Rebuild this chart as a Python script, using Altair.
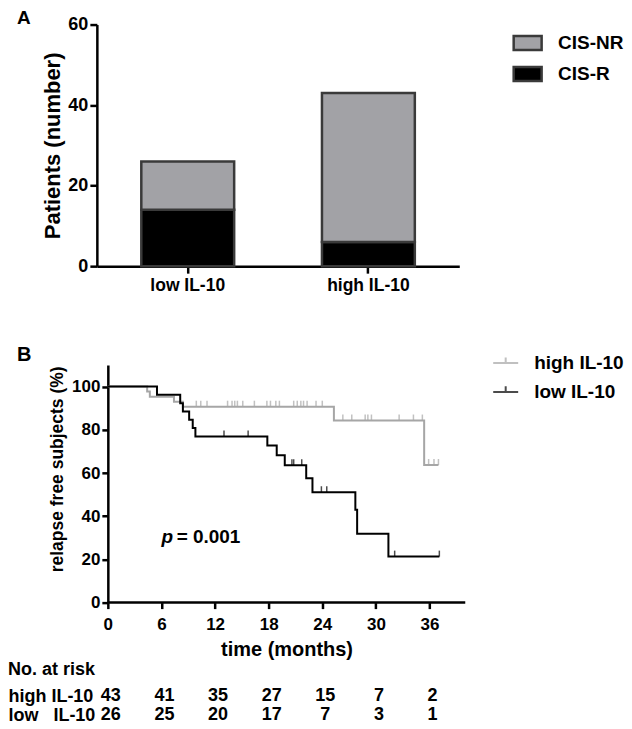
import altair as alt
import pandas as pd

FONT = "Liberation Sans"

# ---------------- Panel A data ----------------
groups = ["low IL-10", "high IL-10"]
status = ["CIS-NR", "CIS-R"]
status_colors = ["#a2a2a6", "#000000"]
cis_r = [14, 6]
cis_nr = [12, 37]

# ---------------- Panel B data ----------------
km_groups = ["high IL-10", "low IL-10"]
km_colors = ["#a6a6a6", "#000000"]

high_t = [0, 4.4, 4.7, 7.4, 8.4, 25.3, 35.4, 37.0]
high_s = [100, 97.7, 95.3, 93.0, 90.7, 84.3, 63.7, 63.7]
high_cens_t = [9.9, 10.4, 11.1, 13.4, 13.9, 14.2, 14.5, 15.1, 16.4, 17.8, 18.2, 18.8,
               19.2, 20.8, 21.2, 21.6, 21.9, 22.3, 23.3, 24.0,
               26.3, 27.3, 28.8, 29.1, 29.5, 32.6, 34.2, 35.2,
               35.9, 36.5, 37.0]
high_cens_s = [90.7] * 20 + [84.3] * 8 + [63.7] * 3

low_t = [0, 5.5, 8.1, 8.4, 9.1, 9.5, 9.8, 17.85, 18.9, 19.8, 22.2, 22.9, 27.7, 27.9, 31.4, 37.1]
low_s = [100, 96.2, 92.3, 88.5, 84.6, 80.8, 76.9, 72.7, 68.2, 63.6, 57.6, 51.1, 43.0, 31.9, 21.3, 21.3]
low_cens_t = [13.0, 15.7, 20.6, 20.8, 21.7, 23.9, 24.5, 32.1, 37.1]
low_cens_s = [76.9, 76.9, 63.6, 63.6, 63.6, 51.1, 51.1, 21.3, 21.3]

x_ticks = [0, 6, 12, 18, 24, 30, 36]
y_ticks_b = [0, 20, 40, 60, 80, 100]
p_label_pos = (6.0, 30.6)      # (months, %)
p_value_pos = (7.7, 30.6)

# ---------------- Risk table data ----------------
risk_times = [0, 6, 12, 18, 24, 30, 36]
risk_rows = ["high IL-10", "low\u00a0\u00a0\u00a0IL-10"]
risk_high = [43, 41, 35, 27, 15, 7, 2]
risk_low = [26, 25, 20, 17, 7, 3, 1]

# ---------------- layout constants ----------------
XMIN = -1.229
XMAX = 40

# ---------------- Panel A ----------------
dfA = pd.DataFrame({
    "group": groups * 2,
    "status": ["CIS-R"] * 2 + ["CIS-NR"] * 2,
    "n": cis_r + cis_nr,
    "ord": [0, 0, 1, 1],
})

panelA = alt.Chart(dfA).mark_bar(stroke="#3a3a3a", strokeWidth=2.5).encode(
    x=alt.X("group:N", sort=groups,
            scale=alt.Scale(paddingInner=0.486, paddingOuter=0.246),
            axis=alt.Axis(title=" ", labelAngle=0, labelFontSize=17.5, labelPadding=3,
                          tickSize=7, tickWidth=2.5, domainWidth=2.5,
                          titleFontSize=20, titlePadding=30)),
    y=alt.Y("n:Q", stack="zero", scale=alt.Scale(domain=[0, 60], nice=False),
            axis=alt.Axis(values=[0, 20, 40, 60], title="Patients (number)",
                          labelFontSize=18, labelPadding=2, tickSize=7, tickWidth=2.5,
                          domainWidth=2.5, titleFontSize=22, titlePadding=3)),
    color=alt.Color("status:N", scale=alt.Scale(domain=status, range=status_colors),
                    legend=alt.Legend(title=None, orient="none", legendX=416, legendY=3,
                                      symbolType="M-1,-0.5H1V0.5H-1Z", symbolSize=784,
                                      symbolStrokeColor="#3a3a3a", symbolStrokeWidth=2.5,
                                      symbolOpacity=1,
                                      labelFontSize=19, labelOffset=15, rowPadding=3,
                                      padding=0)),
    order=alt.Order("ord:Q"),
).properties(
    width=363, height=242,
    title=alt.TitleParams("A", anchor="start", frame="group", dx=-80, fontSize=19,
                          fontWeight="bold", offset=-12, color="black"),
)

# ---------------- Panel B ----------------
dfL = pd.DataFrame({
    "t": high_t + low_t,
    "s": high_s + low_s,
    "grp": ["high IL-10"] * len(high_t) + ["low IL-10"] * len(low_t),
})
dfC = pd.DataFrame({
    "t": high_cens_t + low_cens_t,
    "s": high_cens_s + low_cens_s,
    "grp": ["high IL-10"] * len(high_cens_t) + ["low IL-10"] * len(low_cens_t),
})

xB = alt.X("t:Q", scale=alt.Scale(domain=[XMIN, XMAX], nice=False, zero=False),
           axis=alt.Axis(values=x_ticks, domain=False, title="time (months)",
                         labelFontSize=17, labelPadding=8, tickSize=6, tickWidth=2.5,
                         titleFontSize=20, titlePadding=7, titleX=190))
yB = alt.Y("s:Q", scale=alt.Scale(domain=[0, 110], nice=False),
           axis=alt.Axis(values=y_ticks_b, offset=-11, title="relapse free subjects (%)",
                         labelFontSize=17, labelPadding=2, tickSize=6, tickWidth=2.5,
                         domainWidth=2.5, titleFontSize=17.5, titlePadding=5, titleY=104))
colB = alt.Color("grp:N", scale=alt.Scale(domain=km_groups, range=km_colors),
                 legend=alt.Legend(title=None, orient="none", legendX=396, legendY=-15.5,
                                   symbolType="M-1,0H1M0,0V-0.45", symbolSize=625,
                                   symbolStrokeWidth=2, symbolOpacity=1,
                                   labelFontSize=19, labelOffset=15,
                                   rowPadding=5, padding=0))

lines = alt.Chart(dfL).mark_line(interpolate="step-after", strokeWidth=2).encode(
    x=xB, y=yB, color=colB)
cens = alt.Chart(dfC).mark_tick(orient="vertical", size=6, thickness=1.5, yOffset=-3).encode(
    x="t:Q", y="s:Q", color=alt.Color("grp:N"))
xline = alt.Chart().mark_rule(color="black", strokeWidth=2.5).encode(
    x=alt.datum(0), x2=alt.datum(XMAX), y=alt.datum(0))
ptxt = alt.Chart().mark_text(text="p", fontSize=19, fontWeight="bold", fontStyle="italic",
                             align="left", baseline="middle", color="black").encode(
    x=alt.datum(p_label_pos[0]), y=alt.datum(p_label_pos[1]))
pval = alt.Chart().mark_text(text="= 0.001", fontSize=19, fontWeight="bold",
                             align="left", baseline="middle", color="black").encode(
    x=alt.datum(p_value_pos[0]), y=alt.datum(p_value_pos[1]))

panelB = alt.layer(lines, cens, xline, ptxt, pval).properties(
    width=369, height=238,
    title=alt.TitleParams("B", anchor="start", frame="group", dx=-80, fontSize=20,
                          fontWeight="bold", offset=-15.5, color="black"),
)

# ---------------- Risk table ----------------
dfT = pd.DataFrame({
    "t": risk_times * 2,
    "row": [risk_rows[0]] * len(risk_times) + [risk_rows[1]] * len(risk_times),
    "n": risk_high + risk_low,
})
table = alt.Chart(dfT).mark_text(fontSize=18, fontWeight="bold", dx=3, color="black",
                                 baseline="middle").encode(
    x=alt.X("t:Q", scale=alt.Scale(domain=[XMIN, XMAX], nice=False, zero=False), axis=None),
    y=alt.Y("row:N", sort=risk_rows, scale=alt.Scale(type="point", padding=0),
            axis=alt.Axis(title=None, domain=False, ticks=False, tickSize=0,
                          labelAlign="left", labelPadding=89, labelFontSize=18,
                          labelBaseline="middle")),
    text="n:Q",
).properties(
    width=369, height=19,
    title=alt.TitleParams("No. at risk", anchor="start", frame="group", dx=-89,
                          fontSize=18, fontWeight="bold", offset=9, color="black"),
)

chart = alt.vconcat(panelA, panelB, table, spacing=1).resolve_scale(
    color="independent"
).resolve_legend(
    color="independent"
).properties(
    padding={"left": 0, "top": 0, "right": 0, "bottom": 0}
).configure_axis(
    labelFont=FONT, titleFont=FONT, labelFontWeight="bold", titleFontWeight="bold",
    labelColor="black", titleColor="black", domainColor="black", tickColor="black",
    grid=False,
).configure_legend(
    labelFont=FONT, labelFontWeight="bold", labelColor="black",
).configure_title(font=FONT).configure_text(font=FONT).configure_view(stroke=None)

chart.save("out.html", embed_options={"renderer": "svg", "actions": False})
